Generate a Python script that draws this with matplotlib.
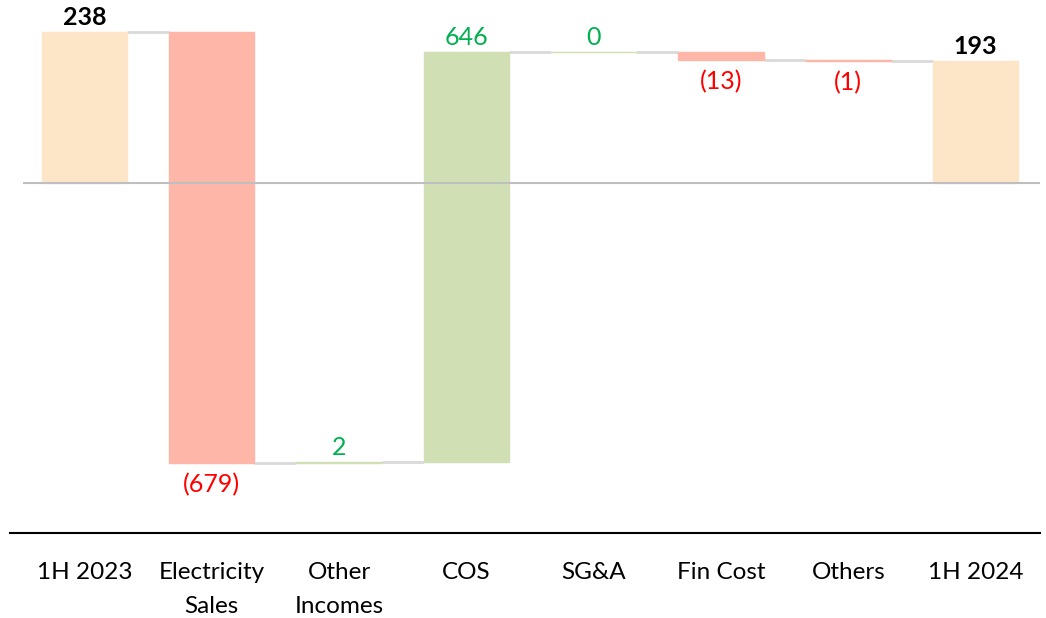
import numpy as np
import matplotlib.pyplot as plt

plt.rcParams['font.family'] = ['Lato', 'DejaVu Sans']

categories = ['1H 2023', 'Electricity\nSales', 'Other\nIncomes', 'COS', 'SG&A',
              'Fin Cost', 'Others', '1H 2024']
start_value = 238
changes = [-679, 2, 646, 0, -13, -1]
end_value = 193

total_col = '#FDE5C8'
up_col = '#D1E0B4'
down_col = '#FDB6A7'
link_col = '#D9D9D9'

fig = plt.figure(figsize=(10.46, 6.18), dpi=100)
ax = fig.add_axes([10 / 1046, 85 / 618, 1030 / 1046, 533 / 618])

x = np.arange(len(categories))
w = 0.67

# running levels: bottom/top of each floating bar
bottoms, tops, colors = [0], [start_value], [total_col]
level = start_value
for c in changes:
    new = level + c
    bottoms.append(min(level, new))
    tops.append(max(level, new))
    colors.append(up_col if c >= 0 else down_col)
    level = new
bottoms.append(0)
tops.append(end_value)
colors.append(total_col)

heights = np.array(tops) - np.array(bottoms)
ax.bar(x, heights, w, bottom=bottoms, color=colors, edgecolor=colors, linewidth=1, zorder=2)

# connector lines between bars
levels = [start_value]
lv = start_value
for c in changes:
    lv += c
    levels.append(lv)
for i in range(len(categories) - 1):
    ax.plot([x[i] + w / 2, x[i + 1] - w / 2], [levels[i], levels[i]],
            color=link_col, lw=2, zorder=1, solid_capstyle='butt')

# zero line
ax.plot([-0.475, 7.6], [0, 0], color='#BFBFBF', lw=1.5, zorder=3)

# labels
ax.text(x[0], start_value + 4, f'{start_value}', ha='center', va='bottom',
        fontsize=18, fontweight='bold', color='black')
ax.text(x[-1], end_value + 4, f'{end_value}', ha='center', va='bottom',
        fontsize=18, fontweight='bold', color='black')
for i, c in enumerate(changes, start=1):
    if c >= 0:
        ax.text(x[i], tops[i] + 4, f'{c}', ha='center', va='bottom',
                fontsize=18, color='#00B050')
    else:
        ax.text(x[i], bottoms[i] - 16, f'({-c})', ha='center', va='top',
                fontsize=18, color='#FF0000')

ax.set_xlim(-0.585, 7.506)
ax.set_ylim(-551, 288.4)
ax.set_xticks(x)
ax.set_xticklabels(categories, fontsize=17.5, linespacing=1.75)
ax.tick_params(axis='x', length=0, pad=21)
ax.set_yticks([])
for s in ['top', 'right', 'left']:
    ax.spines[s].set_visible(False)
ax.spines['bottom'].set_color('black')
ax.spines['bottom'].set_linewidth(1.5)

fig.savefig('out.png', dpi=100)
